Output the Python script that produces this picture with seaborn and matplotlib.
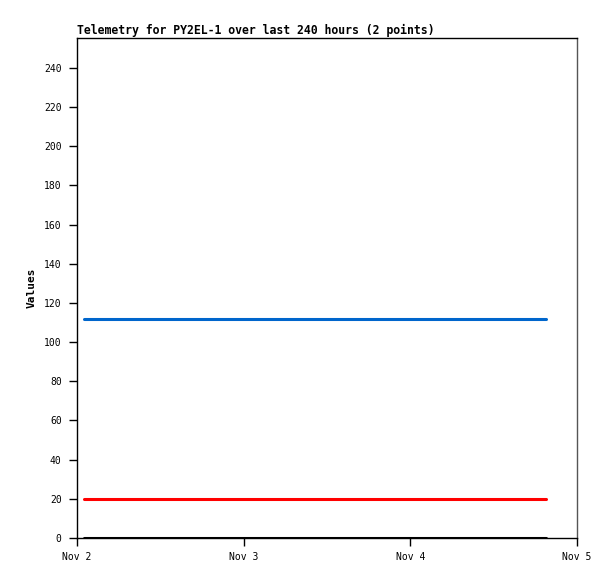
import matplotlib
matplotlib.use("Agg")
import matplotlib.pyplot as plt
import seaborn as sns
import pandas as pd

# Data
times = ["2024-11-02 01:00", "2024-11-04 19:30"]
blue_values = [112, 112]
red_values = [20, 20]
black_values = [0.2, 0.2]
series_names = ["Series A", "Series B", "Series C"]
series_colors = ["#0066cc", "#ff0000", "#000000"]
x_ticks = ["2024-11-02", "2024-11-03", "2024-11-04", "2024-11-05"]
x_tick_labels = ["Nov 2", "Nov 3", "Nov 4", "Nov 5"]
y_ticks = list(range(0, 241, 20))
title = "Telemetry for PY2EL-1 over last 240 hours (2 points)"
y_label = "Values"

rows = []
for name, vals in zip(series_names, [blue_values, red_values, black_values]):
    for t, v in zip(times, vals):
        rows.append({"time": pd.Timestamp(t), "value": v, "series": name})
df = pd.DataFrame(rows)

sns.set_style("white")
plt.rcParams["font.family"] = ["DejaVu Sans Mono"]
plt.rcParams["text.color"] = "black"
plt.rcParams["axes.labelcolor"] = "black"

fig = plt.figure(figsize=(6.15, 5.79), dpi=100)
ax = fig.add_axes([77 / 615, 41 / 579, 500 / 615, 500 / 579])

sns.lineplot(data=df, x="time", y="value", hue="series",
             palette=dict(zip(series_names, series_colors)),
             linewidth=2.2, legend=False, ax=ax)

ax.set_xlim(pd.Timestamp(x_ticks[0]), pd.Timestamp(x_ticks[-1]))
ax.set_ylim(0, 255.3)
ax.set_xticks([pd.Timestamp(t) for t in x_ticks])
ax.set_xticklabels(x_tick_labels)
ax.set_yticks(y_ticks)
ax.set_xlabel("")
ax.set_ylabel(y_label, fontsize=8, fontweight="bold", labelpad=5, color="black")
ax.set_title(title, loc="left", fontsize=8.3, fontweight="bold", pad=3, color="black")

ax.tick_params(axis="both", direction="out", length=6, width=1,
               labelsize=7, colors="black", pad=5, bottom=True, left=True)
ax.tick_params(axis="x", pad=4)
for side in ["left", "bottom", "top"]:
    ax.spines[side].set_color("black")
    ax.spines[side].set_linewidth(1)
ax.spines["right"].set_color("#555555")
ax.spines["right"].set_linewidth(1)

fig.savefig("out.png", dpi=100)
